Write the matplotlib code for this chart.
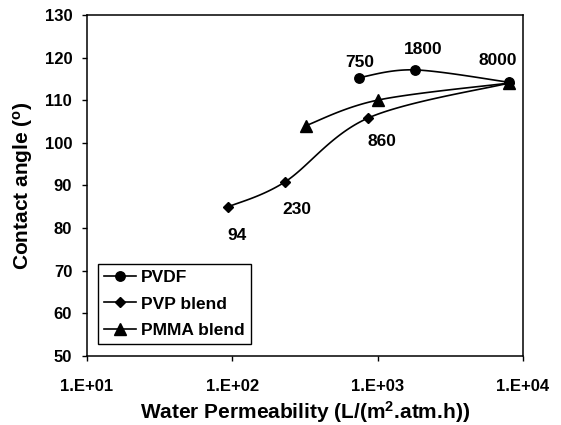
import numpy as np
import matplotlib
matplotlib.use("Agg")
import matplotlib.pyplot as plt

plt.rcParams['font.family'] = ['Liberation Sans', 'DejaVu Sans']
plt.rcParams['font.weight'] = 'bold'
plt.rcParams['mathtext.fontset'] = 'custom'
plt.rcParams['mathtext.rm'] = 'Liberation Sans:bold'
plt.rcParams['mathtext.bf'] = 'Liberation Sans:bold'
plt.rcParams['mathtext.it'] = 'Liberation Sans:bold'

pvdf_x = [750, 1800, 8000]
pvdf_y = [115.3, 117.1, 114.2]
pvp_x = [94, 230, 860, 8000]
pvp_y = [85, 90.8, 105.8, 114]
pmma_x = [320, 1000, 8000]
pmma_y = [104, 110, 114]
annot_text = ["94", "230", "860", "750", "1800", "8000"]
annot_xy = [(94, 85), (230, 90.8), (860, 105.8), (750, 115.3), (1800, 117.1), (8000, 114.2)]
annot_off = [(6.5, -21), (8.6, -20), (10, -17), (0, 11), (6, 15), (-8, 16)]
xticks = [10, 100, 1000, 10000]
xticklabels = ["1.E+01", "1.E+02", "1.E+03", "1.E+04"]
yticks = [50, 60, 70, 80, 90, 100, 110, 120, 130]


def smooth(x, y, n=40):
    lx = np.log10(np.asarray(x, float))
    ly = np.asarray(y, float)
    px = np.concatenate([[lx[0]], lx, [lx[-1]]])
    py = np.concatenate([[ly[0]], ly, [ly[-1]]])
    outx, outy = [], []
    t = np.linspace(0, 1, n)
    for i in range(1, len(px) - 2):
        p0 = np.array([px[i - 1], py[i - 1]])
        p1 = np.array([px[i], py[i]])
        p2 = np.array([px[i + 1], py[i + 1]])
        p3 = np.array([px[i + 2], py[i + 2]])
        c1 = p1 + (p2 - p0) / 6
        c2 = p2 - (p3 - p1) / 6
        pts = ((1 - t) ** 3)[:, None] * p1 + (3 * (1 - t) ** 2 * t)[:, None] * c1 \
            + (3 * (1 - t) * t ** 2)[:, None] * c2 + (t ** 3)[:, None] * p2
        outx.extend(pts[:, 0]); outy.extend(pts[:, 1])
    return 10 ** np.array(outx), np.array(outy)


fig = plt.figure(figsize=(5.61, 4.25), dpi=100)
ax = fig.add_axes([0.155, 0.1624, 0.777, 0.8026])

for x, y, m, ms, lab in [(pvdf_x, pvdf_y, 'o', 6.8, 'PVDF'),
                          (pvp_x, pvp_y, 'D', 5.5, 'PVP blend'),
                          (pmma_x, pmma_y, '^', 9, 'PMMA blend')]:
    sx, sy = smooth(x, y)
    ax.plot(sx, sy, color='black', lw=1.2)
    ax.plot(x, y, linestyle='none', marker=m, ms=ms, color='black')
    ax.plot([], [], color='black', lw=1.2, marker=m, ms=ms, label=lab)

for txt, xy, off in zip(annot_text, annot_xy, annot_off):
    ax.annotate(txt, xy=xy, xytext=off, textcoords='offset points',
                ha='center', va='center', fontsize=12.5, fontweight='bold')

ax.set_xscale('log')
ax.set_xlim(10, 10000)
ax.set_ylim(50, 130)
ax.set_xticks(xticks)
ax.set_xticklabels(xticklabels)
ax.minorticks_off()
ax.set_yticks(yticks)
ax.tick_params(axis='both', labelsize=12, direction='out', length=3.6, width=1)
ax.tick_params(axis='x', pad=13)
ax.tick_params(axis='y', pad=7)
for lbl in ax.get_xticklabels() + ax.get_yticklabels():
    lbl.set_fontweight('bold')
for s in ax.spines.values():
    s.set_linewidth(1.1)
ax.set_xlabel('Water Permeability (L/(m$^\\mathbf{2}$.atm.h))', fontsize=15, fontweight='bold', labelpad=4)
ax.set_ylabel('Contact angle ($^\\mathbf{o}$)', fontsize=15, fontweight='bold', labelpad=7)

leg = ax.legend(loc='lower left', bbox_to_anchor=(0.025, 0.035), fancybox=False,
                edgecolor='black', fontsize=12.5, handlelength=1.85, handletextpad=0.3,
                borderpad=0.35, labelspacing=0.65, borderaxespad=0, framealpha=1)
leg.get_frame().set_linewidth(1.0)
for t in leg.get_texts():
    t.set_fontweight('bold')

fig.savefig('out.png', dpi=100)
